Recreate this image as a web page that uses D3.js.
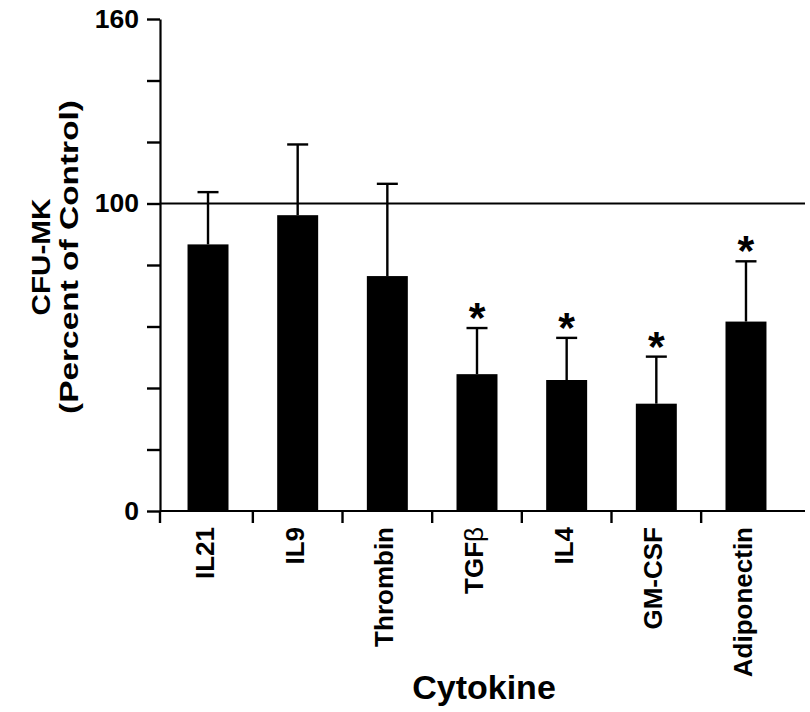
<!DOCTYPE html>
<html>
<head>
<meta charset="utf-8">
<script src="https://cdn.jsdelivr.net/npm/d3@7"></script>
<style>
	body { margin: 0; background: #fff; }
	svg { display: block; font-family: Arial, 'Liberation Sans', Helvetica, sans-serif; }
</style>
</head>
<body>
<svg id="chart"></svg>
<script>
// values
const categories = ['IL21', 'IL9', 'Thrombin', 'TGFβ', 'IL4', 'GM-CSF', 'Adiponectin']
const means = [86.7, 96.2, 76.4, 44.5, 42.6, 34.9, 61.6]
const errors = [17, 23, 30, 15, 13.7, 15.3, 19.6]
const significant = [false, false, false, true, true, true, true]
const yTickValues = [0, 20, 40, 60, 80, 100, 120, 140, 160]
const yTickLabels = [0, 100, 160]
const controlLevel = 100

function cytokineChart() {
	const width = 810
	const height = 712

	const margin = {
		top: 19,
		right: 16,
		bottom: 201,
		left: 160
	}

	const data = categories.map((c, i) => ({
		cytokine: c,
		mean: means[i],
		err: errors[i],
		sig: significant[i]
	}))

	const xScale = d3
		.scaleBand()
		.domain(categories)
		.range([margin.left, 794])
		.paddingInner(0.543)
		.paddingOuter(0.307)
	const yScale = d3
		.scaleLinear()
		.domain([0, 160])
		.range([height - margin.bottom, margin.top])

	const svg = d3
		.select('#chart')
		.attr('width', width)
		.attr('height', height)
		.attr('viewBox', [0, 0, width, height])

	// control line at 100%
	svg
		.append('line')
		.attr('x1', margin.left)
		.attr('x2', width - 5)
		.attr('y1', yScale(controlLevel))
		.attr('y2', yScale(controlLevel))
		.attr('stroke', '#000')
		.attr('stroke-width', 1.8)

	// bars
	svg
		.selectAll('rect.bar')
		.data(data)
		.join('rect')
		.attr('class', 'bar')
		.attr('x', d => xScale(d.cytokine))
		.attr('y', d => yScale(d.mean))
		.attr('width', xScale.bandwidth())
		.attr('height', d => yScale(0) - yScale(d.mean))
		.attr('fill', '#000')

	// error bars (upper only)
	const capHalf = 10.5
	const eb = svg.append('g').attr('stroke', '#000').attr('stroke-width', 2.4)
	eb.selectAll('line.stem')
		.data(data)
		.join('line')
		.attr('class', 'stem')
		.attr('x1', d => xScale(d.cytokine) + xScale.bandwidth() / 2)
		.attr('x2', d => xScale(d.cytokine) + xScale.bandwidth() / 2)
		.attr('y1', d => yScale(d.mean))
		.attr('y2', d => yScale(d.mean + d.err))
	eb.selectAll('line.cap')
		.data(data)
		.join('line')
		.attr('class', 'cap')
		.attr('x1', d => xScale(d.cytokine) + xScale.bandwidth() / 2 - capHalf)
		.attr('x2', d => xScale(d.cytokine) + xScale.bandwidth() / 2 + capHalf)
		.attr('y1', d => yScale(d.mean + d.err))
		.attr('y2', d => yScale(d.mean + d.err))

	// significance stars
	svg
		.selectAll('text.star')
		.data(data.filter(d => d.sig))
		.join('text')
		.attr('class', 'star')
		.attr('x', d => xScale(d.cytokine) + xScale.bandwidth() / 2)
		.attr('y', d => yScale(d.mean + d.err) + 4)
		.attr('text-anchor', 'middle')
		.attr('font-size', 43)
		.attr('font-weight', 'bold')
		.text('*')

	// y axis
	const yAxis = d3
		.axisLeft(yScale)
		.tickValues(yTickValues)
		.tickSize(13)
		.tickSizeOuter(0)
		.tickPadding(8)
		.tickFormat(d => (yTickLabels.includes(d) ? d : ''))

	const gy = svg
		.append('g')
		.attr('transform', `translate(${margin.left},0)`)
		.call(yAxis)
	gy.attr('font-size', null).attr('font-family', null)
	gy.select('.domain').attr('stroke-width', 2.2)
	gy.selectAll('.tick line').attr('stroke-width', 2.4)
	gy.selectAll('text')
		.attr('font-size', 26.5)
		.attr('font-weight', 'bold')
		.attr('fill', '#000')

	// x axis: labels from the band scale, ticks between bars
	const xAxis = d3.axisBottom(xScale).tickSize(0).tickSizeOuter(0)
	const baseY = yScale(0)
	const gx = svg
		.append('g')
		.attr('transform', `translate(0,${baseY})`)
		.call(xAxis)
	gx.attr('font-size', null).attr('font-family', null)
	gx.select('.domain').remove()
	gx.selectAll('text')
		.attr('transform', 'rotate(-90)')
		.attr('x', -16)
		.attr('y', -3)
		.attr('dy', '0.35em')
		.attr('text-anchor', 'end')
		.attr('font-size', 26)
		.attr('font-weight', 'bold')
		.attr('fill', '#000')
		.each(function (d) {
			if (d.endsWith('β')) {
				const t = d3.select(this).text('')
				t.append('tspan').text(d.slice(0, -1))
				t.append('tspan').attr('font-weight', 'normal').text('β')
			}
		})

	gx.append('line')
		.attr('x1', margin.left)
		.attr('x2', width - 5)
		.attr('stroke', '#000')
		.attr('stroke-width', 2.2)

	const between = [xScale.range()[0]].concat(
		categories.slice(0, -1).map(c => xScale(c) + xScale.bandwidth() + (xScale.step() - xScale.bandwidth()) / 2)
	)
	gx.selectAll('line.sep')
		.data(between)
		.join('line')
		.attr('class', 'sep')
		.attr('x1', d => d)
		.attr('x2', d => d)
		.attr('y1', 0)
		.attr('y2', 12)
		.attr('stroke', '#000')
		.attr('stroke-width', 2.4)

	// axis titles
	const yTitle = svg.append('g').attr('transform', `translate(0,257) rotate(-90)`)
	yTitle
		.append('text')
		.attr('y', 50)
		.attr('text-anchor', 'middle')
		.attr('font-size', 26)
		.attr('font-weight', 'bold')
		.attr('textLength', 117)
		.attr('lengthAdjust', 'spacingAndGlyphs')
		.text('CFU-MK')
	yTitle
		.append('text')
		.attr('y', 78)
		.attr('text-anchor', 'middle')
		.attr('font-size', 26)
		.attr('font-weight', 'bold')
		.attr('textLength', 314)
		.attr('lengthAdjust', 'spacingAndGlyphs')
		.text('(Percent of Control)')

	svg
		.append('text')
		.attr('x', 484)
		.attr('y', 699)
		.attr('text-anchor', 'middle')
		.attr('font-size', 34)
		.attr('font-weight', 'bold')
		.text('Cytokine')
}

cytokineChart()
</script>
</body>
</html>
